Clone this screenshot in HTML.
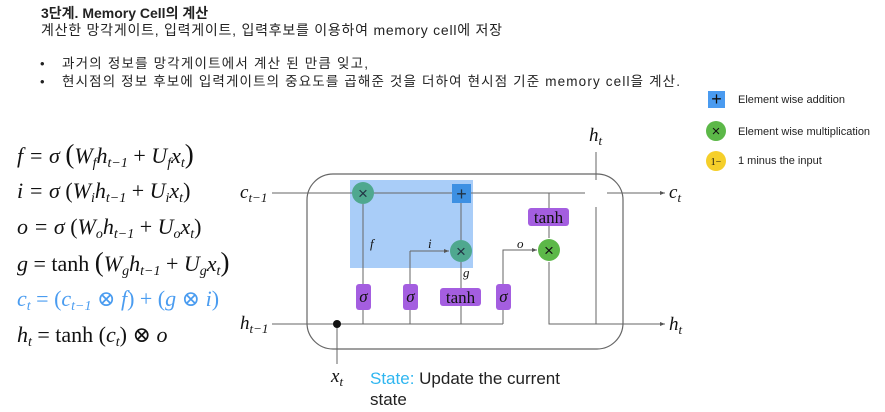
<!DOCTYPE html>
<html><head><meta charset="utf-8"><style>
body{margin:0;background:#fff;width:885px;height:412px;overflow:hidden}
svg{display:block}
.k{font-family:"Liberation Sans","Noto Sans CJK KR",sans-serif;fill:#222}
.m{font-family:"Liberation Serif","DejaVu Serif",serif;font-style:italic;fill:#111}
.r{font-family:"Liberation Serif","DejaVu Serif",serif;fill:#111}
</style></head><body>
<svg width="885" height="412" viewBox="0 0 885 412" xmlns="http://www.w3.org/2000/svg">
<defs><marker id="a" markerWidth="6" markerHeight="6" refX="5" refY="3" orient="auto"><path d="M0,1 L5,3 L0,5z" fill="#555"/></marker></defs>
<text x="41" y="18" class="k" font-size="14" font-weight="bold">3단계. Memory Cell의 계산</text>
<text x="41" y="35" class="k" font-size="14" textLength="461">계산한 망각게이트, 입력게이트, 입력후보를 이용하여 memory cell에 저장</text>
<text x="40" y="68" class="k" font-size="13">•</text>
<text x="62" y="68" class="k" font-size="13.5" textLength="306">과거의 정보를 망각게이트에서 계산 된 만큼 잊고,</text>
<text x="40" y="86" class="k" font-size="13">•</text>
<text x="62" y="86" class="k" font-size="13.5" textLength="618">현시점의 정보 후보에 입력게이트의 중요도를 곱해준 것을 더하여 현시점 기준 memory cell을 계산.</text>
<!-- legend -->
<rect x="708" y="91" width="17" height="17" fill="#4a9bf0"/>
<text x="716.5" y="105" text-anchor="middle" font-size="18" fill="#111" font-family="Liberation Sans">+</text>
<text x="738" y="103" class="k" font-size="11">Element wise addition</text>
<circle cx="716" cy="131" r="10" fill="#5cb848"/>
<text x="716" y="136" text-anchor="middle" font-size="15" fill="#111" font-family="Liberation Sans">×</text>
<text x="738" y="135" class="k" font-size="11">Element wise multiplication</text>
<circle cx="716" cy="161" r="10" fill="#f5cf2a"/>
<text x="716" y="165" text-anchor="middle" font-size="10" class="r">1−</text>
<text x="738" y="164" class="k" font-size="11">1 minus the input</text>
<!-- equations -->
<g font-size="22">
<text x="17" y="163" class="m">f = σ <tspan font-size="27" font-style="normal">(</tspan>W<tspan font-size="14" dy="4">f</tspan><tspan dy="-4">h</tspan><tspan font-size="14" dy="4">t−1</tspan><tspan dy="-4" font-style="normal"> + </tspan>U<tspan font-size="14" dy="4">f</tspan><tspan dy="-4">x</tspan><tspan font-size="14" dy="4">t</tspan><tspan dy="-4" font-size="27" font-style="normal">)</tspan></text>
<text x="17" y="198" class="m">i = σ <tspan font-style="normal">(</tspan>W<tspan font-size="14" dy="4">i</tspan><tspan dy="-4">h</tspan><tspan font-size="14" dy="4">t−1</tspan><tspan dy="-4" font-style="normal"> + </tspan>U<tspan font-size="14" dy="4">i</tspan><tspan dy="-4">x</tspan><tspan font-size="14" dy="4">t</tspan><tspan dy="-4" font-style="normal">)</tspan></text>
<text x="17" y="234" class="m">o = σ <tspan font-style="normal">(</tspan>W<tspan font-size="14" dy="4">o</tspan><tspan dy="-4">h</tspan><tspan font-size="14" dy="4">t−1</tspan><tspan dy="-4" font-style="normal"> + </tspan>U<tspan font-size="14" dy="4">o</tspan><tspan dy="-4">x</tspan><tspan font-size="14" dy="4">t</tspan><tspan dy="-4" font-style="normal">)</tspan></text>
<text x="17" y="271" class="m">g <tspan font-style="normal">= tanh </tspan><tspan font-size="27" font-style="normal">(</tspan>W<tspan font-size="14" dy="4">g</tspan><tspan dy="-4">h</tspan><tspan font-size="14" dy="4">t−1</tspan><tspan dy="-4" font-style="normal"> + </tspan>U<tspan font-size="14" dy="4">g</tspan><tspan dy="-4">x</tspan><tspan font-size="14" dy="4">t</tspan><tspan dy="-4" font-size="27" font-style="normal">)</tspan></text>
<text x="17" y="306" class="m" style="fill:#4a9cf0">c<tspan font-size="14" dy="4">t</tspan><tspan dy="-4" font-style="normal"> = (</tspan>c<tspan font-size="14" dy="4">t−1</tspan><tspan dy="-4" font-style="normal"> ⊗ </tspan>f<tspan font-style="normal">) + (</tspan>g<tspan font-style="normal"> ⊗ </tspan>i<tspan font-style="normal">)</tspan></text>
<text x="17" y="342" class="m">h<tspan font-size="14" dy="4">t</tspan><tspan dy="-4" font-style="normal"> = tanh (</tspan>c<tspan font-size="14" dy="4">t</tspan><tspan dy="-4" font-style="normal">) ⊗ </tspan>o</text>
</g>
<!-- cell -->
<rect x="307" y="174" width="316" height="175" rx="26" fill="none" stroke="#666" stroke-width="1.2"/>
<rect x="350" y="180" width="123" height="88" fill="#a9cdf8"/>
<g stroke="#666" stroke-width="1" fill="none">
<line x1="272" y1="193" x2="665" y2="193" marker-end="url(#a)"/>
<line x1="272" y1="324" x2="503" y2="324"/>
<line x1="363" y1="324" x2="363" y2="204"/>
<line x1="410" y1="324" x2="410" y2="251"/>
<line x1="410" y1="251" x2="449" y2="251" marker-end="url(#a)"/>
<line x1="461" y1="324" x2="461" y2="262"/>
<line x1="461" y1="240" x2="461" y2="203"/>
<polyline points="503,324 503,250 537,250" marker-end="url(#a)"/>
<line x1="549" y1="193" x2="549" y2="238"/>
<polyline points="549,262 549,324 665,324" marker-end="url(#a)"/>
<line x1="596" y1="324" x2="596" y2="207"/>
<line x1="596" y1="180" x2="596" y2="152"/>
<line x1="337" y1="324" x2="337" y2="364"/>
</g>
<rect x="585" y="181" width="22" height="25" fill="#fff"/>
<circle cx="337" cy="324" r="4" fill="#111"/>
<circle cx="363" cy="193" r="11" fill="#4fa88f"/>
<text x="363" y="199" text-anchor="middle" font-size="17" fill="#234" font-family="Liberation Sans">×</text>
<rect x="452" y="184" width="19" height="19" fill="#3d90e3"/>
<text x="461.5" y="200" text-anchor="middle" font-size="18" fill="#234" font-family="Liberation Sans">+</text>
<circle cx="461" cy="251" r="11" fill="#4fa88f"/>
<text x="461" y="257" text-anchor="middle" font-size="17" fill="#234" font-family="Liberation Sans">×</text>
<circle cx="549" cy="250" r="11" fill="#5cb848"/>
<text x="549" y="256" text-anchor="middle" font-size="17" fill="#111" font-family="Liberation Sans">×</text>
<g fill="#a45ee0">
<rect x="356" y="284" width="15" height="26" rx="3"/>
<rect x="403" y="284" width="15" height="26" rx="3"/>
<rect x="440" y="288" width="41" height="18" rx="3"/>
<rect x="496" y="284" width="15" height="26" rx="3"/>
<rect x="528" y="208" width="41" height="18" rx="3"/>
</g>
<g class="r" font-size="17" text-anchor="middle">
<text x="363.5" y="302" class="m">σ</text>
<text x="410.5" y="302" class="m">σ</text>
<text x="503.5" y="302" class="m">σ</text>
<text x="460.5" y="303">tanh</text>
<text x="548.5" y="223">tanh</text>
</g>
<g class="m" font-size="13">
<text x="370" y="248">f</text>
<text x="428" y="248">i</text>
<text x="463" y="277">g</text>
<text x="517" y="248">o</text>
</g>
<g class="m" font-size="19">
<text x="240" y="198">c<tspan font-size="13" dy="4">t−1</tspan></text>
<text x="669" y="198">c<tspan font-size="13" dy="4">t</tspan></text>
<text x="240" y="329">h<tspan font-size="13" dy="4">t−1</tspan></text>
<text x="669" y="330">h<tspan font-size="13" dy="4">t</tspan></text>
<text x="589" y="141">h<tspan font-size="13" dy="4">t</tspan></text>
<text x="331" y="382">x<tspan font-size="13" dy="4">t</tspan></text>
</g>
<text x="370" y="384" class="k" font-size="17"><tspan fill="#2fb6f0">State:</tspan> Update the current</text>
<text x="370" y="405" class="k" font-size="17">state</text>
</svg>
</body></html>
